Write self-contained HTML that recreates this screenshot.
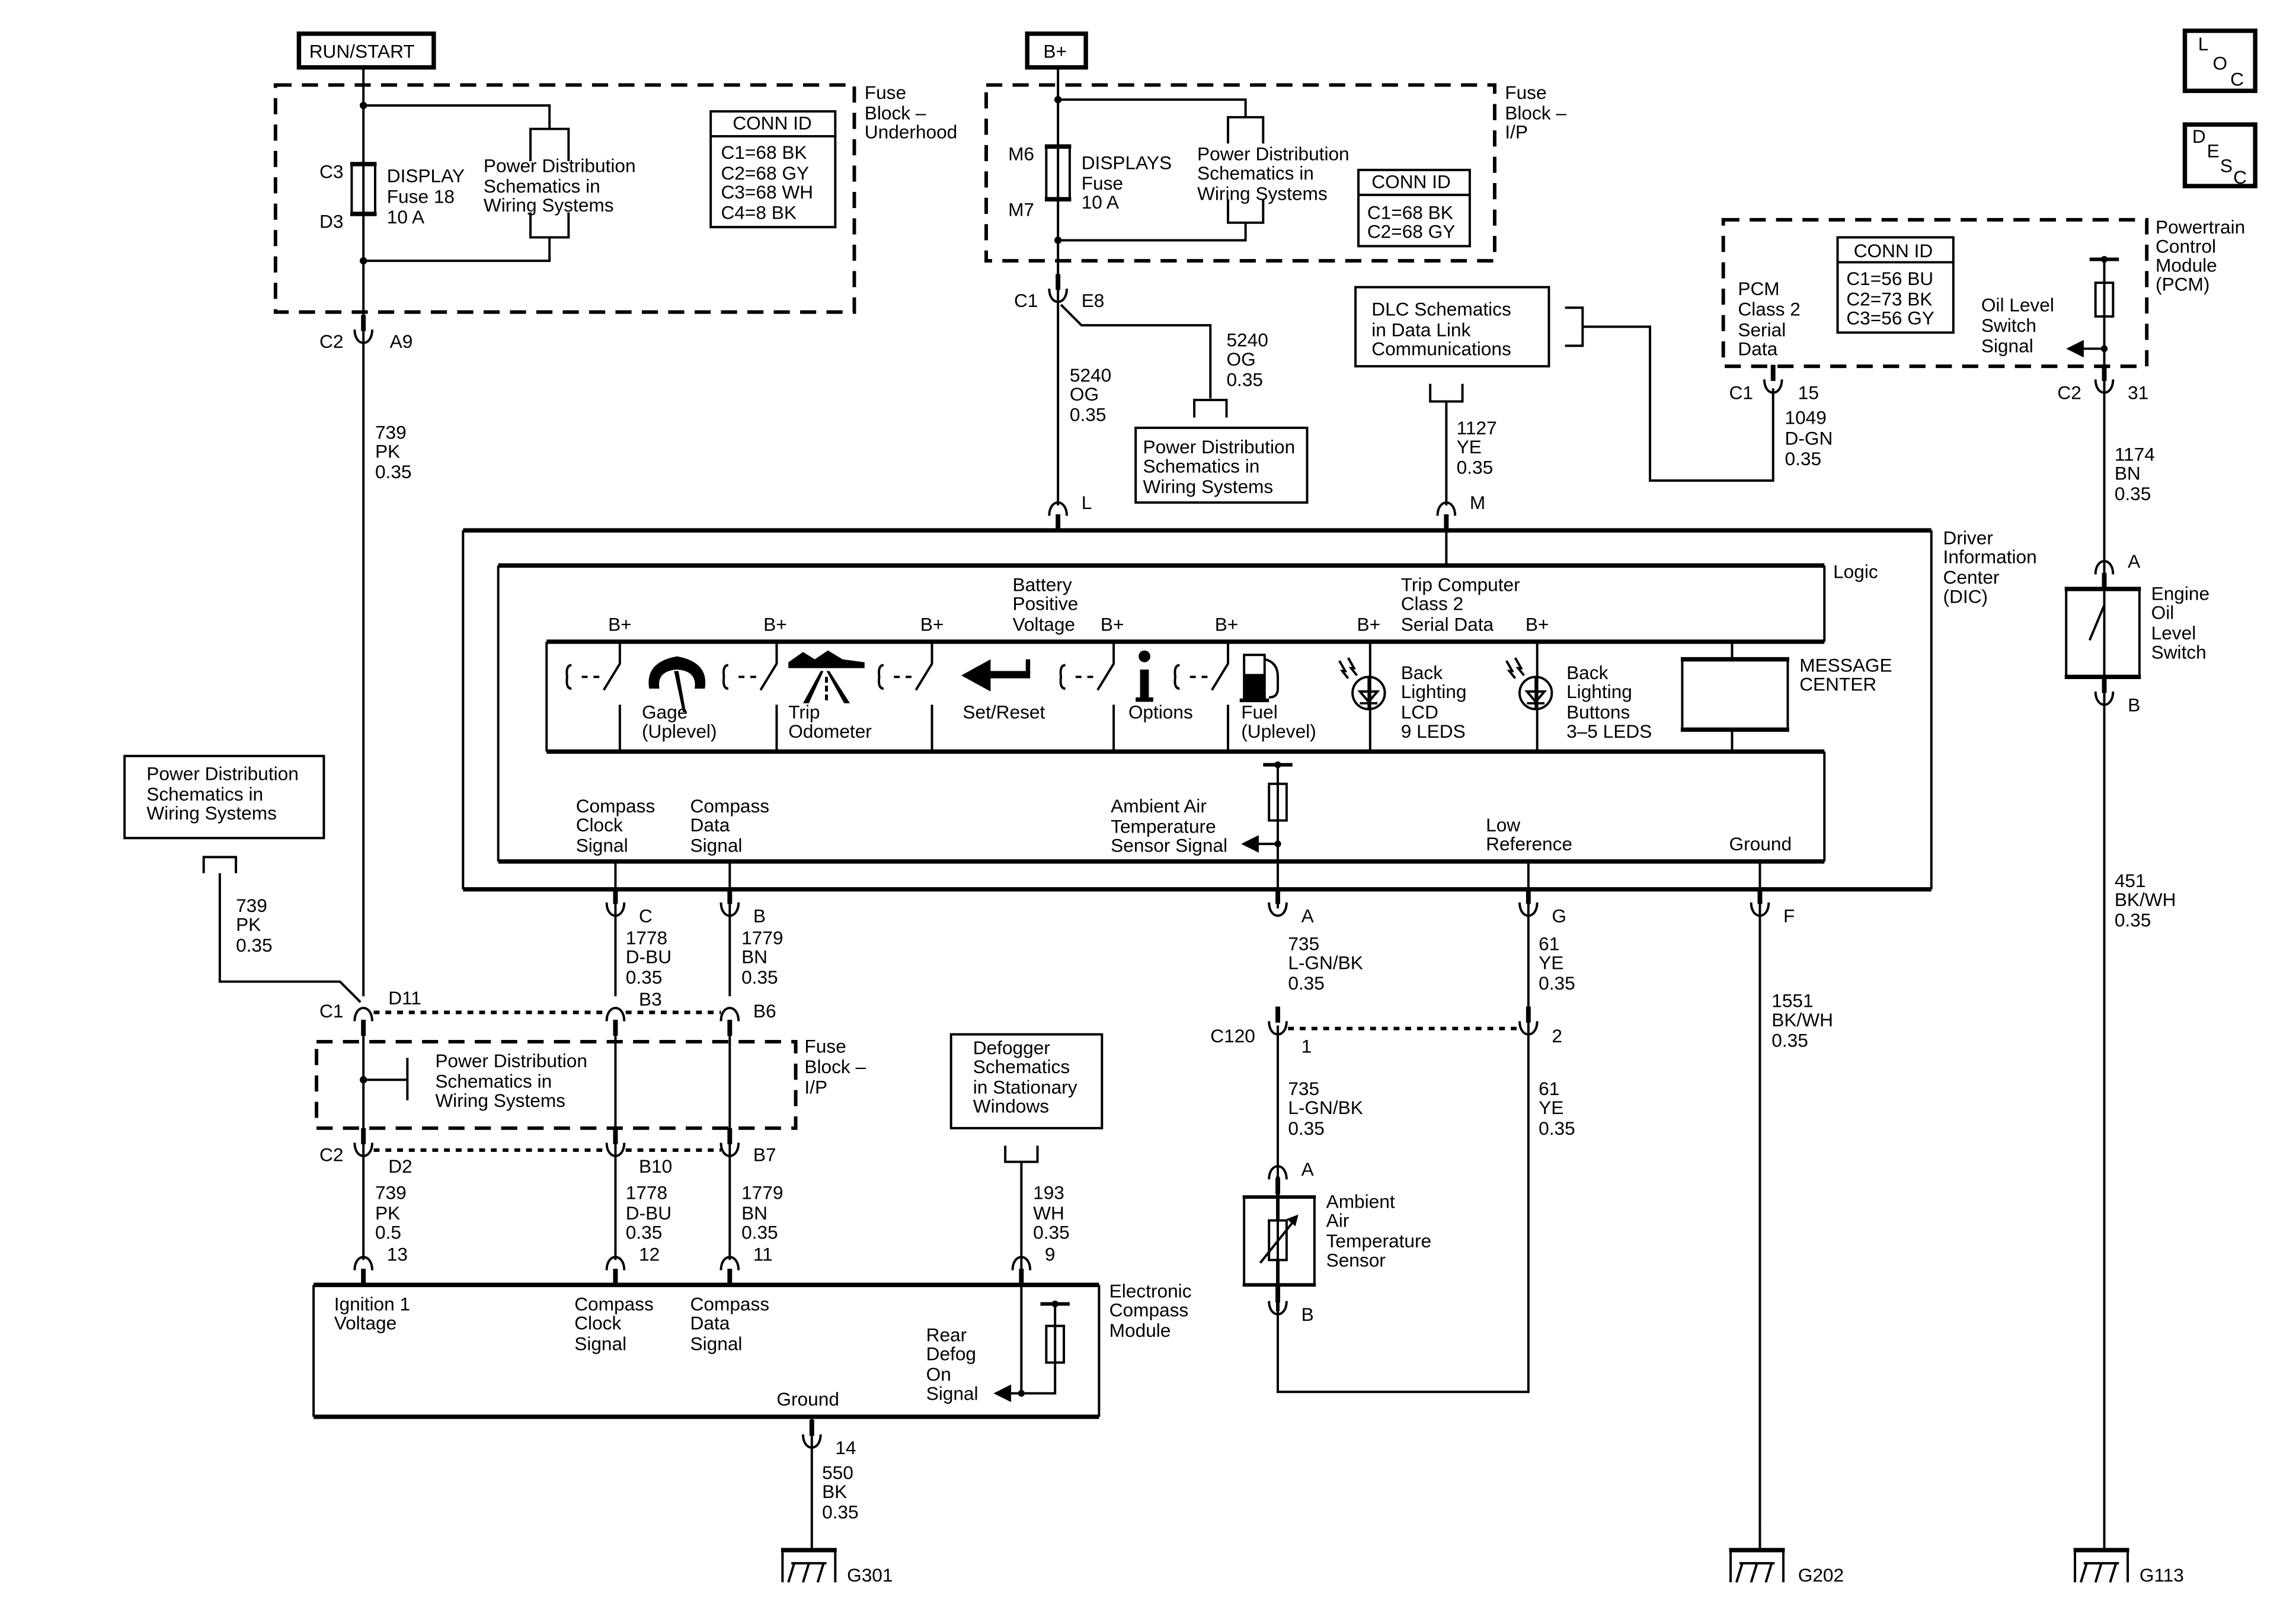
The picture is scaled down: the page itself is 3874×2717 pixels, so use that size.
<!DOCTYPE html>
<html><head><meta charset="utf-8"><style>
html,body{margin:0;padding:0;background:#fff}
svg{display:block}
text{font-family:"Liberation Sans",Arial,sans-serif;font-size:12.8px;fill:#000;dominant-baseline:central}
.l{stroke:#000;stroke-width:1.6;fill:none}
.h{stroke:#000;stroke-width:3;fill:none}
.d{stroke:#000;stroke-width:2.4;fill:none;stroke-dasharray:11 7}
.dd{stroke:#000;stroke-width:2.4;fill:none;stroke-dasharray:4 4}
</style></head><body>
<svg width="3874" height="2717" viewBox="0 0 1549.6 1086.8" xmlns="http://www.w3.org/2000/svg">
<defs>
<g id="cu"><path d="M0,-16V-5" stroke="#000" stroke-width="3.2"/><path d="M-6,-6 C-6,6 6,6 6,-6" class="l" stroke-width="1.8"/></g>
<g id="cd"><path d="M0,16V5" stroke="#000" stroke-width="3.2"/><path d="M-6,6 C-6,-6 6,-6 6,6" class="l" stroke-width="1.8"/></g>
<g id="gnd"><path d="M0,-18V0" class="l"/><path d="M-21,0H17" stroke="#000" stroke-width="3"/><path d="M-20,0V22M16,0V22" class="l"/><path d="M-14,9H10M-16,22L-12,9M-6,22L-2,9M4,22L8,9" class="l"/></g>
<g id="sw"><path d="M0,0V15L-11,33" class="l"/><path d="M0,43V75" class="l"/><path d="M-14,24H-28" class="l" stroke-width="2.4" stroke-dasharray="4 4"/><path d="M-33,16 Q-37,16 -36,24 Q-37,32 -33,32" class="l"/></g>
</defs>
<g transform="scale(0.989)">
<rect x="204" y="23" width="92" height="23" class="h" stroke-width="4"/>
<text x="211" y="35">RUN/START</text>
<rect x="701" y="23" width="40" height="23" class="h" stroke-width="4"/>
<text x="712" y="35">B+</text>
<rect x="1491" y="21" width="48" height="41" class="h" stroke-width="2.6"/>
<text x="1500" y="30">L</text><text x="1510" y="43">O</text><text x="1522" y="54">C</text>
<rect x="1491" y="85" width="48" height="42" class="h" stroke-width="2.6"/>
<text x="1496" y="93">D</text><text x="1506" y="103">E</text><text x="1515" y="113">S</text><text x="1524" y="121">C</text>

<rect x="188" y="58" width="395" height="155" class="d"/>
<text x="590" y="63">Fuse</text><text x="590" y="77">Block –</text><text x="590" y="90">Underhood</text>
<path d="M248,46V680" class="l"/>
<path d="M248,72H375V88M248,178H375V162" class="l"/>
<path d="M362,110V88H388V110M362,145V162H388V145" class="l"/>
<circle cx="248" cy="72" r="2.5"/><circle cx="248" cy="178" r="2.5"/>
<rect x="240" y="112" width="16" height="34" fill="#fff" class="l"/>
<path d="M239,112H257M239,146H257" stroke="#000" stroke-width="3"/>
<text x="218" y="117">C3</text><text x="218" y="151">D3</text>
<text x="264" y="120">DISPLAY</text><text x="264" y="134">Fuse 18</text><text x="264" y="148">10 A</text>
<text x="330" y="113">Power Distribution</text><text x="330" y="127">Schematics in</text><text x="330" y="140">Wiring Systems</text>
<rect x="485" y="76" width="85" height="79" class="l" stroke-width="2.2"/><path d="M485,93H570" class="l" stroke-width="2.2"/>
<text x="500" y="84">CONN ID</text><text x="492" y="104">C1=68 BK</text><text x="492" y="118">C2=68 GY</text><text x="492" y="131">C3=68 WH</text><text x="492" y="145">C4=8 BK</text>
<use href="#cu" x="248" y="231"/><text x="218" y="233">C2</text><text x="266" y="233">A9</text>
<text x="256" y="295">739</text><text x="256" y="308">PK</text><text x="256" y="322">0.35</text>

<rect x="673" y="58" width="347" height="120" class="d"/>
<text x="1027" y="63">Fuse</text><text x="1027" y="77">Block –</text><text x="1027" y="90">I/P</text>
<path d="M722,46V345" class="l"/>
<path d="M722,68H850V80M722,164H850V152" class="l"/>
<path d="M838,98V80H862V98M838,136V152H862V136" class="l"/>
<circle cx="722" cy="68" r="2.5"/><circle cx="722" cy="164" r="2.5"/>
<rect x="714" y="100" width="16" height="36" fill="#fff" class="l"/>
<path d="M713,100H731M713,136H731" stroke="#000" stroke-width="3"/>
<text x="688" y="105">M6</text><text x="688" y="143">M7</text>
<text x="738" y="111">DISPLAYS</text><text x="738" y="125">Fuse</text><text x="738" y="138">10 A</text>
<text x="817" y="105">Power Distribution</text><text x="817" y="118">Schematics in</text><text x="817" y="132">Wiring Systems</text>
<rect x="927" y="116" width="76" height="52" class="l" stroke-width="2.2"/><path d="M927,133H1003" class="l" stroke-width="2.2"/>
<text x="936" y="124">CONN ID</text><text x="933" y="145">C1=68 BK</text><text x="933" y="158">C2=68 GY</text>
<use href="#cu" x="722" y="203"/><text x="692" y="205">C1</text><text x="738" y="205">E8</text>
<path d="M724,208L738,222H826V272" class="l"/>
<path d="M815,285V273H837V285" class="l" stroke-width="2"/>
<text x="837" y="232">5240</text><text x="837" y="245">OG</text><text x="837" y="259">0.35</text>
<text x="730" y="256">5240</text><text x="730" y="269">OG</text><text x="730" y="283">0.35</text>
<rect x="775" y="292" width="117" height="51" class="l" stroke-width="2.2"/>
<text x="780" y="305">Power Distribution</text><text x="780" y="318">Schematics in</text><text x="780" y="332">Wiring Systems</text>
<use href="#cd" x="722" y="346"/><text x="738" y="343">L</text>

<rect x="925" y="196" width="132" height="54" class="l" stroke-width="2.2"/>
<text x="936" y="211">DLC Schematics</text><text x="936" y="225">in Data Link</text><text x="936" y="238">Communications</text>
<path d="M1068,210H1080V236H1068M1080,223H1126V328H1210V265" class="l"/>
<path d="M976,262V274H998V262M987,274V345" class="l"/>
<text x="994" y="292">1127</text><text x="994" y="305">YE</text><text x="994" y="319">0.35</text>
<use href="#cd" x="987" y="346"/><text x="1003" y="343">M</text>

<rect x="1176" y="150" width="289" height="100" class="d"/>
<text x="1471" y="155">Powertrain</text><text x="1471" y="168">Control</text><text x="1471" y="181">Module</text><text x="1471" y="194">(PCM)</text>
<rect x="1254" y="162" width="79" height="65" class="l" stroke-width="2.2"/><path d="M1254,179H1333" class="l" stroke-width="2.2"/>
<text x="1265" y="171">CONN ID</text><text x="1260" y="190">C1=56 BU</text><text x="1260" y="204">C2=73 BK</text><text x="1260" y="217">C3=56 GY</text>
<text x="1186" y="197">PCM</text><text x="1186" y="211">Class 2</text><text x="1186" y="225">Serial</text><text x="1186" y="238">Data</text>
<text x="1352" y="208">Oil Level</text><text x="1352" y="222">Switch</text><text x="1352" y="236">Signal</text>
<path d="M1426,177H1446" stroke="#000" stroke-width="2.4"/><circle cx="1436" cy="177" r="2.3"/>
<path d="M1436,177V1040" class="l"/>
<rect x="1430" y="193" width="12" height="23" fill="#fff" class="l"/>
<path d="M1436,238H1420" class="l" stroke-width="2.4"/><path d="M1410,238L1422,232V244Z"/><circle cx="1436" cy="238" r="2.3"/>
<use href="#cu" x="1210" y="265"/><text x="1180" y="268">C1</text><text x="1227" y="268">15</text>
<text x="1218" y="285">1049</text><text x="1218" y="299">D-GN</text><text x="1218" y="313">0.35</text>
<use href="#cu" x="1436" y="265"/><text x="1404" y="268">C2</text><text x="1452" y="268">31</text>
<text x="1443" y="310">1174</text><text x="1443" y="323">BN</text><text x="1443" y="337">0.35</text>
<use href="#cd" x="1436" y="386"/><text x="1452" y="383">A</text>
<rect x="1410" y="402" width="50" height="60" fill="#fff" class="l"/>
<path d="M1409,402H1461M1409,462H1461" stroke="#000" stroke-width="3"/>
<path d="M1436,402V413L1426,437M1436,444V462" class="l"/>
<use href="#cu" x="1436" y="478"/><text x="1452" y="481">B</text>
<text x="1468" y="405">Engine</text><text x="1468" y="418">Oil</text><text x="1468" y="432">Level</text><text x="1468" y="445">Switch</text>
<text x="1443" y="601">451</text><text x="1443" y="614">BK/WH</text><text x="1443" y="628">0.35</text>
<use href="#gnd" x="1436" y="1058"/><text x="1460" y="1075">G113</text>

<path d="M316,362H1318M316,607H1318" class="h"/><path d="M316,362V607M1318,362V607" class="l"/>
<text x="1326" y="367">Driver</text><text x="1326" y="380">Information</text><text x="1326" y="394">Center</text><text x="1326" y="407">(DIC)</text>
<path d="M340,386H1245M340,588H1245" class="h"/><path d="M340,386V588M1245,386V438" class="l"/>
<text x="1251" y="390">Logic</text>
<path d="M987,362V386" class="l"/>
<text x="691" y="399">Battery</text><text x="691" y="412">Positive</text><text x="691" y="426">Voltage</text>
<text x="956" y="399">Trip Computer</text><text x="956" y="412">Class 2</text><text x="956" y="426">Serial Data</text>
<text x="415" y="426">B+</text><text x="521" y="426">B+</text><text x="628" y="426">B+</text><text x="751" y="426">B+</text><text x="829" y="426">B+</text><text x="926" y="426">B+</text><text x="1041" y="426">B+</text>
<path d="M373,438H1245M373,513H1245" class="h"/><path d="M373,438V513M1245,513V588" class="l"/>
<use href="#sw" x="423" y="438"/><use href="#sw" x="530" y="438"/><use href="#sw" x="636" y="438"/><use href="#sw" x="760" y="438"/><use href="#sw" x="838" y="438"/>
<path d="M935,438V513M1049,438V513M1182,438V450M1182,498V513" class="l"/>
<path d="M443,470 Q440,452 462,448 Q484,452 481,470 L474,470 Q476,458 462,457 Q448,458 450,470Z"/>
<path d="M460,458L466,486L468,486L463,458Z"/>
<path d="M538,452L548,445L556,450L565,444L575,450L590,452L590,456L538,456Z"/>
<path d="M560,458L548,480H552L562,458ZM566,458L580,480H576L564,458Z"/><path d="M564,462V478" stroke="#000" stroke-width="2" stroke-dasharray="4 2"/>
<path d="M656,461L676,450V472Z"/><path d="M676,458H700V450H703V463H676Z"/>
<circle cx="781" cy="448" r="4"/><path d="M778,457H784V476H787V479H775V476H778Z"/>
<rect x="849" y="447" width="14" height="30" class="l" stroke-width="2.6"/><rect x="849" y="460" width="14" height="17"/><path d="M846,478H866" stroke="#000" stroke-width="2.5"/><path d="M863,450Q872,452 872,462V470Q872,476 866,476" class="l"/>
<circle cx="934" cy="473" r="11" class="l" stroke-width="2.2"/><path d="M934,462V484M928,472L940,472L934,479Z M928,480H940" class="l" stroke-width="2"/>
<path d="M914,451L918,458L916,458L920,463M920,449L924,456L922,456L926,461" class="l" stroke-width="1.2"/>
<circle cx="1048" cy="473" r="11" class="l" stroke-width="2.2"/><path d="M1048,462V484M1042,472L1054,472L1048,479Z M1042,480H1054" class="l" stroke-width="2"/>
<path d="M1028,451L1032,458L1030,458L1034,463M1034,449L1038,456L1036,456L1040,461" class="l" stroke-width="1.2"/>
<text x="438" y="486">Gage</text><text x="438" y="499">(Uplevel)</text>
<text x="538" y="486">Trip</text><text x="538" y="499">Odometer</text>
<text x="657" y="486">Set/Reset</text>
<text x="770" y="486">Options</text>
<text x="847" y="486">Fuel</text><text x="847" y="499">(Uplevel)</text>
<text x="956" y="459">Back</text><text x="956" y="472">Lighting</text><text x="956" y="486">LCD</text><text x="956" y="499">9 LEDS</text>
<text x="1069" y="459">Back</text><text x="1069" y="472">Lighting</text><text x="1069" y="486">Buttons</text><text x="1069" y="499">3–5 LEDS</text>
<rect x="1148" y="450" width="72" height="48" class="l"/><path d="M1147,450H1221M1147,498H1221" stroke="#000" stroke-width="3"/>
<text x="1228" y="454">MESSAGE</text><text x="1228" y="467">CENTER</text>
<text x="393" y="550">Compass</text><text x="393" y="563">Clock</text><text x="393" y="577">Signal</text>
<text x="471" y="550">Compass</text><text x="471" y="563">Data</text><text x="471" y="577">Signal</text>
<text x="758" y="550">Ambient Air</text><text x="758" y="564">Temperature</text><text x="758" y="577">Sensor Signal</text>
<text x="1014" y="563">Low</text><text x="1014" y="576">Reference</text>
<text x="1180" y="576">Ground</text>
<path d="M862,522H882" stroke="#000" stroke-width="2.4"/><circle cx="872" cy="522" r="2.3"/>
<path d="M872,522V620" class="l"/><rect x="866" y="535" width="12" height="25" fill="#fff" class="l"/>
<path d="M872,576H858" class="l" stroke-width="2.4"/><path d="M847,576L859,570V582Z"/><circle cx="872" cy="576" r="2.3"/>
<path d="M1043,588V620M1201,588V1040M420,588V680M498,588V680" class="l"/>
<use href="#cu" x="420" y="622"/><text x="436" y="625">C</text>
<use href="#cu" x="498" y="622"/><text x="514" y="625">B</text>
<use href="#cu" x="872" y="622"/><text x="888" y="625">A</text>
<use href="#cu" x="1043" y="622"/><text x="1059" y="625">G</text>
<use href="#cu" x="1201" y="622"/><text x="1217" y="625">F</text>
<text x="427" y="640">1778</text><text x="427" y="653">D-BU</text><text x="427" y="667">0.35</text>
<text x="506" y="640">1779</text><text x="506" y="653">BN</text><text x="506" y="667">0.35</text>
<text x="879" y="644">735</text><text x="879" y="657">L-GN/BK</text><text x="879" y="671">0.35</text>
<text x="1050" y="644">61</text><text x="1050" y="657">YE</text><text x="1050" y="671">0.35</text>
<text x="1209" y="683">1551</text><text x="1209" y="696">BK/WH</text><text x="1209" y="710">0.35</text>
<use href="#gnd" x="1201" y="1058"/><text x="1227" y="1075">G202</text>

<rect x="85" y="516" width="136" height="56" class="l" stroke-width="2.2"/>
<text x="100" y="528">Power Distribution</text><text x="100" y="542">Schematics in</text><text x="100" y="555">Wiring Systems</text>
<path d="M139,596V585H161V596M150,596V670H232L246,684" class="l"/>
<text x="161" y="618">739</text><text x="161" y="631">PK</text><text x="161" y="645">0.35</text>

<use href="#cd" x="248" y="691"/><use href="#cd" x="420" y="691"/><use href="#cd" x="498" y="691"/>
<path d="M255,691H414M427,691H492" class="dd"/>
<text x="218" y="690">C1</text><text x="265" y="681">D11</text><text x="436" y="682">B3</text><text x="514" y="690">B6</text>
<rect x="216" y="711" width="327" height="59" class="d"/>
<path d="M248,700V860M420,700V860M498,700V860" class="l"/>
<path d="M248,737H278M278,722V751" class="l"/><circle cx="248" cy="737" r="2.5"/>
<text x="297" y="724">Power Distribution</text><text x="297" y="738">Schematics in</text><text x="297" y="751">Wiring Systems</text>
<text x="549" y="714">Fuse</text><text x="549" y="728">Block –</text><text x="549" y="742">I/P</text>
<use href="#cu" x="248" y="786"/><use href="#cu" x="420" y="786"/><use href="#cu" x="498" y="786"/>
<path d="M255,785H414M427,785H492" class="dd"/>
<text x="218" y="788">C2</text><text x="265" y="796">D2</text><text x="436" y="796">B10</text><text x="514" y="788">B7</text>
<text x="256" y="814">739</text><text x="256" y="828">PK</text><text x="256" y="841">0.5</text>
<text x="427" y="814">1778</text><text x="427" y="828">D-BU</text><text x="427" y="841">0.35</text>
<text x="506" y="814">1779</text><text x="506" y="828">BN</text><text x="506" y="841">0.35</text>
<use href="#cd" x="248" y="861"/><text x="264" y="856">13</text>
<use href="#cd" x="420" y="861"/><text x="436" y="856">12</text>
<use href="#cd" x="498" y="861"/><text x="514" y="856">11</text>
<use href="#cd" x="697" y="861"/><text x="713" y="856">9</text>

<rect x="649" y="706" width="103" height="64" class="l" stroke-width="2.2"/>
<text x="664" y="715">Defogger</text><text x="664" y="728">Schematics</text><text x="664" y="742">in Stationary</text><text x="664" y="755">Windows</text>
<path d="M686,782V793H708V782M697,793V951" class="l"/>
<text x="705" y="814">193</text><text x="705" y="828">WH</text><text x="705" y="841">0.35</text>

<path d="M214,877H750M214,967H750" class="h"/><path d="M214,877V967M750,877V967" class="l"/>
<text x="228" y="890">Ignition 1</text><text x="228" y="903">Voltage</text>
<text x="392" y="890">Compass</text><text x="392" y="903">Clock</text><text x="392" y="917">Signal</text>
<text x="471" y="890">Compass</text><text x="471" y="903">Data</text><text x="471" y="917">Signal</text>
<text x="632" y="911">Rear</text><text x="632" y="924">Defog</text><text x="632" y="938">On</text><text x="632" y="951">Signal</text>
<text x="530" y="955">Ground</text>
<text x="757" y="881">Electronic</text><text x="757" y="894">Compass</text><text x="757" y="908">Module</text>
<path d="M710,890H730" stroke="#000" stroke-width="2.4"/><circle cx="720" cy="890" r="2.3"/>
<path d="M720,890V951H688" class="l" stroke-width="2"/><rect x="714" y="905" width="12" height="25" fill="#fff" class="l"/>
<path d="M678,951L690,945V957Z"/><circle cx="697" cy="951" r="2.3"/>
<path d="M554,967V1040" class="l"/>
<use href="#cu" x="554" y="985"/><text x="570" y="988">14</text>
<text x="561" y="1005">550</text><text x="561" y="1018">BK</text><text x="561" y="1032">0.35</text>
<use href="#gnd" x="554" y="1058"/><text x="578" y="1075">G301</text>

<use href="#cu" x="872" y="703"/><use href="#cu" x="1043" y="703"/>
<path d="M879,702H1037" class="dd"/>
<text x="826" y="707">C120</text><text x="888" y="714">1</text><text x="1059" y="707">2</text>
<path d="M872,700V950H1043V620" class="l"/>
<text x="879" y="743">735</text><text x="879" y="756">L-GN/BK</text><text x="879" y="770">0.35</text>
<text x="1050" y="743">61</text><text x="1050" y="756">YE</text><text x="1050" y="770">0.35</text>
<use href="#cd" x="872" y="799"/><text x="888" y="798">A</text>
<rect x="849" y="817" width="48" height="60" fill="#fff" class="l"/>
<path d="M848,817H898M848,877H898M872,803V833M872,860V895" stroke="#000" stroke-width="2.4"/>
<rect x="866" y="833" width="12" height="27" fill="#fff" class="l"/>
<path d="M860,862L884,832" class="l"/><path d="M886,829L878,832L884,837Z"/>
<use href="#cu" x="872" y="894"/><text x="888" y="897">B</text>
<text x="905" y="820">Ambient</text><text x="905" y="833">Air</text><text x="905" y="847">Temperature</text><text x="905" y="860">Sensor</text>
</g>
</svg>
</body></html>
